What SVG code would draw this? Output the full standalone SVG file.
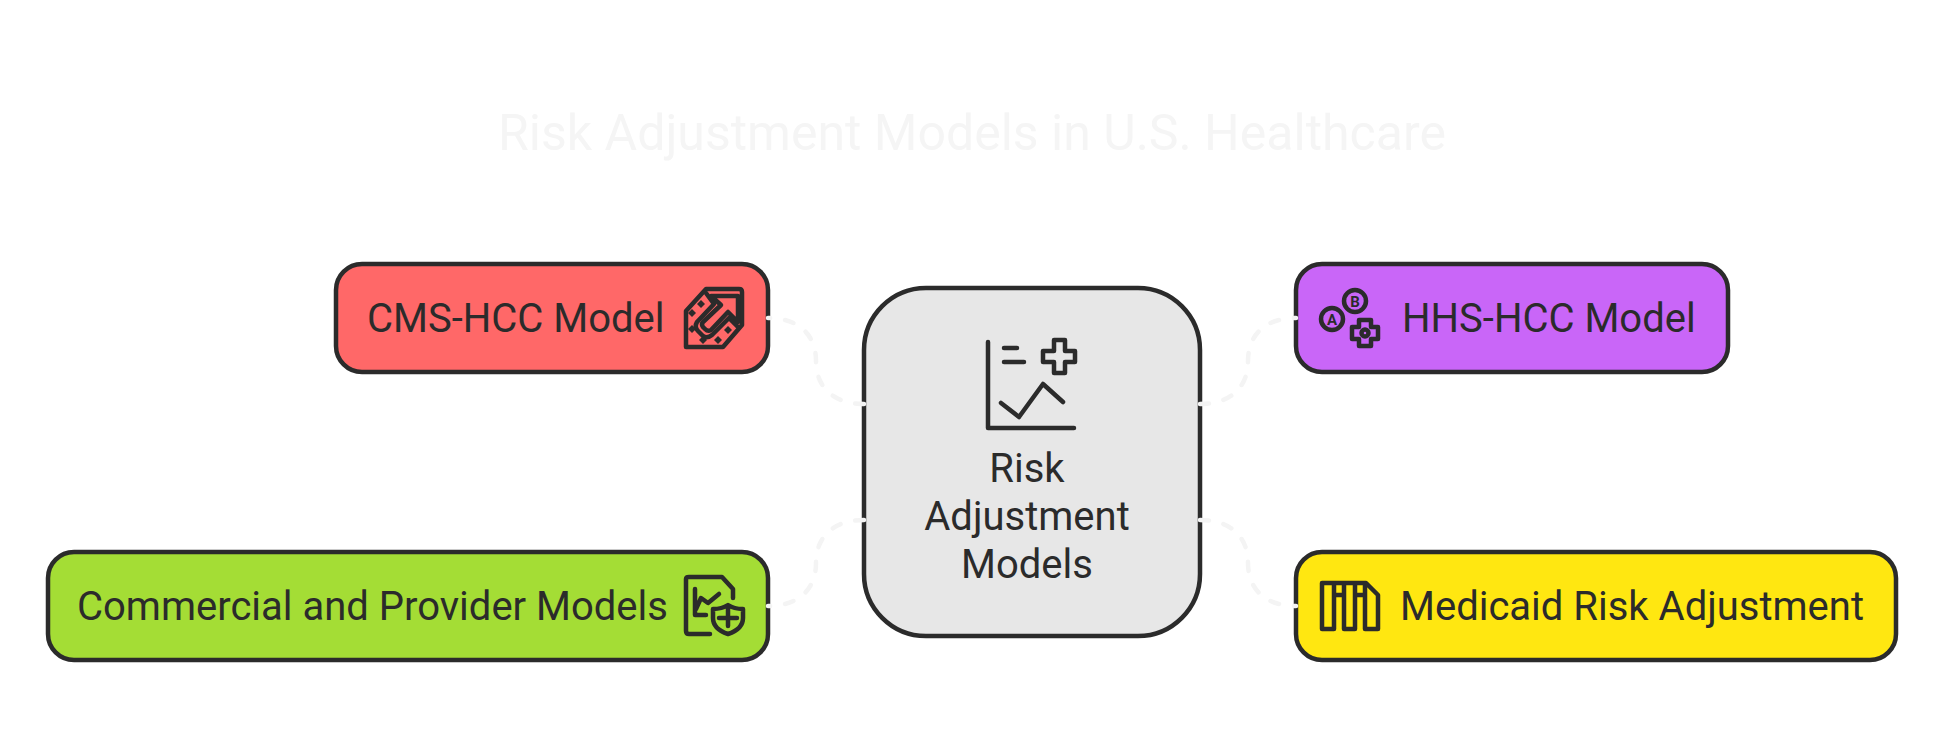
<svg xmlns="http://www.w3.org/2000/svg" width="1944" height="756" viewBox="0 0 1944 756">
<style>
.box{stroke:#2b2b2b;stroke-width:4.5}
.t{font-family:Roboto,"Liberation Sans",sans-serif;font-size:40px;fill:#2b2b2b}
.title{font-family:Roboto,"Liberation Sans",sans-serif;font-size:50px;fill:#f5f5f5}
.i{fill:none;stroke:#2b2b2b;stroke-width:4.5;stroke-linecap:round;stroke-linejoin:round}
.d{fill:#2b2b2b}
.c{fill:none;stroke:#f4f4f4;stroke-width:4.5;stroke-linecap:round;stroke-dasharray:9 15;stroke-dashoffset:7}
.l{font-family:Roboto,"Liberation Sans",sans-serif;font-size:15px;font-weight:700;fill:#2b2b2b;text-anchor:middle}
</style>
<rect width="1944" height="756" fill="#fff"/>
<text id="title" class="title" x="972" y="150" text-anchor="middle">Risk Adjustment Models in U.S. Healthcare</text>
<g id="center">
<rect class="box" x="864" y="288" width="336" height="348" rx="62" fill="#e7e7e7"/>
<path class="i" d="M988 342V428H1074M1004 348H1017M1004 362H1024M1001 403L1019 417L1043 384L1063 402"/>
<path class="i" d="M1054 340H1065V351H1075V362H1065V373H1054V362H1043V351H1054Z"/>
<text class="t" x="1027" y="482" text-anchor="middle">Risk</text>
<text class="t" x="1027" y="530" text-anchor="middle">Adjustment</text>
<text class="t" x="1027" y="578" text-anchor="middle">Models</text>
</g>
<g id="cms">
<rect class="box" x="336" y="264" width="432" height="108" rx="26" fill="#ff6868"/>
<text class="t" x="367" y="332">CMS-HCC Model</text>
<path class="i" d="M686 311L706 289H739Q742 289 742 292V325L723 347H686Z"/>
<path class="i" d="M711 296H738V322L728 312L711 330Q708 332 705 329L703 327Q701 324 703 322L721 305Z"/>
<path class="i" d="M706 293L714 304L697 322Q694 327 698 331L703 336Q707 339 712 335L729 318L738 327"/>
<path class="d" d="M701 300l4 4l-4 4l-4-4zM692 309l4 4l-4 4l-4-4zM692 325l4 4l-4 4l-4-4zM703 336l4 4l-4 4l-4-4zM718 336l4 4l-4 4l-4-4zM728 326l4 4l-4 4l-4-4z"/>
</g>
<g id="hhs">
<rect class="box" x="1296" y="264" width="432" height="108" rx="26" fill="#c966f8"/>
<circle class="i" cx="1332" cy="319" r="11"/>
<circle class="i" cx="1355" cy="301" r="11"/>
<path class="i" d="M1359 320H1371V327H1378V339H1371V346H1359V339H1352V327H1359Z"/>
<circle class="i" cx="1365" cy="333" r="3.5"/>
<text class="l" x="1332" y="324.500">A</text>
<text class="l" x="1355" y="306.500">B</text>
<text class="t" x="1402" y="332">HHS-HCC Model</text>
</g>
<g id="commercial">
<rect class="box" x="48" y="552" width="720" height="108" rx="26" fill="#a4dd35"/>
<text class="t" x="77" y="620">Commercial and Provider Models</text>
<path class="i" d="M710 634H689Q686 634 686 631V579Q686 577 689 577H722L733 589V598M695 589V615H706M696 609L701 598L708 603L719 594"/>
<path class="i" d="M713 609Q722 609 728 605Q734 609 743 609V618Q743 629 728 634Q713 629 713 618ZM728 609V626M719 618H737"/>
</g>
<g id="medicaid">
<rect class="box" x="1296" y="552" width="600" height="108" rx="26" fill="#ffe711"/>
<path class="i" d="M1322 583H1366L1378 595V629H1365V583M1322 583V629H1334V583M1344 583V629H1355V583M1334 595H1344M1355 595H1365"/>
<text class="t" x="1400" y="620">Medicaid Risk Adjustment</text>
</g>
<g id="connectors">
<path class="c" d="M768 318C800 318 816 336 816 361C816 386 832 404 864 404"/>
<path class="c" d="M1296 318C1264 318 1248 336 1248 361C1248 386 1232 404 1200 404"/>
<path class="c" d="M768 606C800 606 816 588 816 563C816 538 832 520 864 520"/>
<path class="c" d="M1296 606C1264 606 1248 588 1248 563C1248 538 1232 520 1200 520"/>
</g>
</svg>
